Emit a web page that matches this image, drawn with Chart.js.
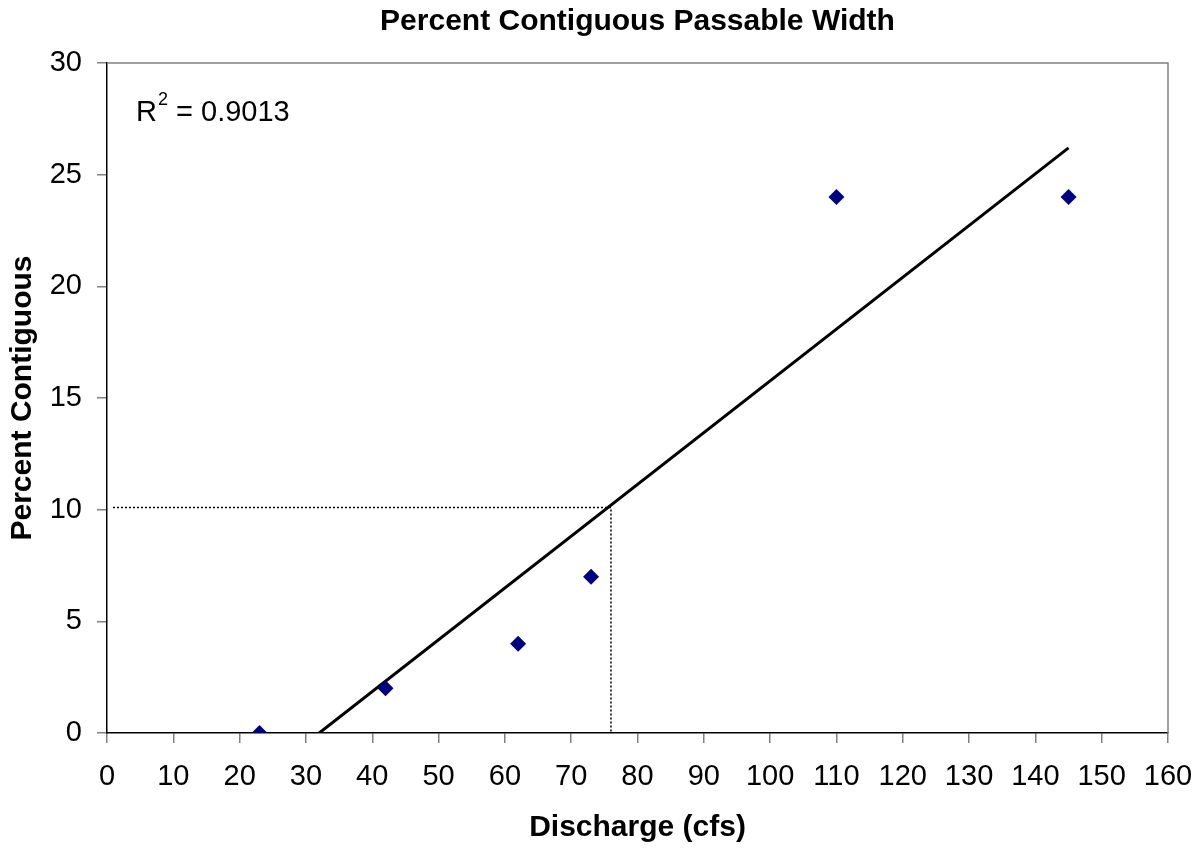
<!DOCTYPE html>
<html>
<head>
<meta charset="utf-8">
<script src="https://cdn.jsdelivr.net/npm/chart.js@4.4.0/dist/chart.umd.min.js"></script>
<style>
  body { margin: 0; background: #fff; }
  #chart { display: block; }
</style>
</head>
<body>
<canvas id="chart" width="1202" height="848"></canvas>
<script>
// Percent Contiguous Passable Width vs discharge
var discharge = [23, 42, 62, 73, 110, 145];
var percentContiguous = [0, 2, 4, 7, 24, 24];

// trendline ends
var trendX = [32, 145];
var trendY = [0, 26.2];

// dotted guide to the 10% crossing
var guideX = [0.9, 76, 76];
var guideY = [10.1, 10.1, 0];

var rSquared = '0.9013';

function toPoints(xs, ys) {
  return xs.map(function(x, i) { return { x: x, y: ys[i] }; });
}

var fontFamily = 'Arial, "Liberation Sans", sans-serif';

// grey frame on top/right and the R² note
var framePlugin = {
  id: 'frame',
  afterDraw: function(chart) {
    var ctx = chart.ctx, a = chart.chartArea;
    ctx.save();
    ctx.strokeStyle = '#808080';
    ctx.lineWidth = 1.5;
    ctx.beginPath();
    ctx.moveTo(a.left, a.top);
    ctx.lineTo(a.right, a.top);
    ctx.lineTo(a.right, a.bottom);
    ctx.stroke();

    ctx.fillStyle = '#000';
    ctx.textBaseline = 'alphabetic';
    ctx.font = '29px ' + fontFamily;
    ctx.fillText('R', 136, 121);
    var w = ctx.measureText('R').width;
    ctx.font = '18px ' + fontFamily;
    ctx.fillText('2', 137 + w, 105);
    var w2 = ctx.measureText('2').width;
    ctx.font = '29px ' + fontFamily;
    ctx.fillText(' = ' + rSquared, 137 + w + w2, 121);
    ctx.restore();
  }
};

var ctx = document.getElementById('chart').getContext('2d');
var myChart = new Chart(ctx, {
  type: 'scatter',
  data: {
    datasets: [{
      label: 'Data',
      data: toPoints(discharge, percentContiguous),
      pointStyle: 'rectRot',
      pointRadius: 8,
      backgroundColor: '#000080',
      borderColor: '#000080',
      borderWidth: 0,
      order: 1
    }, {
      label: 'Trend',
      type: 'line',
      data: toPoints(trendX, trendY),
      borderColor: '#000',
      borderWidth: 3,
      pointRadius: 0,
      fill: false,
      order: 2
    }, {
      label: 'Guide',
      type: 'line',
      data: toPoints(guideX, guideY),
      borderColor: '#000',
      borderWidth: 1.5,
      borderDash: [2, 2],
      pointRadius: 0,
      fill: false,
      order: 3
    }]
  },
  options: {
    responsive: false,
    animation: false,
    devicePixelRatio: 1,
    layout: { padding: { left: 0, right: 34, top: 0, bottom: 0 } },
    plugins: {
      legend: { display: false },
      tooltip: { enabled: false },
      title: {
        display: true,
        fullSize: false,
        text: 'Percent Contiguous Passable Width',
        color: '#000',
        font: { family: fontFamily, size: 30, weight: 'bold' },
        padding: { top: 4, bottom: 23 }
      }
    },
    scales: {
      x: {
        type: 'linear',
        min: 0,
        max: 160,
        afterFit: function(s) {
          s.height = 115;
          s.paddingLeft = 0;
          s.paddingRight = 0;
        },
        ticks: {
          stepSize: 10,
          color: '#000',
          padding: 17,
          maxRotation: 0,
          font: { family: fontFamily, size: 29 }
        },
        grid: { drawOnChartArea: false, tickLength: 10, color: '#808080', lineWidth: 1.5 },
        border: { color: '#000', width: 1.5 },
        title: {
          display: true,
          text: 'Discharge (cfs)',
          color: '#000',
          font: { family: fontFamily, size: 30, weight: 'bold' },
          padding: { top: 8, bottom: 2 }
        }
      },
      y: {
        type: 'linear',
        min: 0,
        max: 30,
        afterFit: function(s) {
          s.width = 107;
          s.paddingTop = 0;
          s.paddingBottom = 0;
        },
        ticks: {
          stepSize: 5,
          color: '#000',
          padding: 15,
          font: { family: fontFamily, size: 29 }
        },
        grid: { drawOnChartArea: false, tickLength: 10, color: '#808080', lineWidth: 1.5 },
        border: { color: '#000', width: 1.5 },
        title: {
          display: true,
          text: 'Percent Contiguous',
          color: '#000',
          font: { family: fontFamily, size: 30, weight: 'bold' },
          padding: { top: 5, bottom: 10 }
        }
      }
    }
  },
  plugins: [framePlugin]
});
</script>
</body>
</html>
